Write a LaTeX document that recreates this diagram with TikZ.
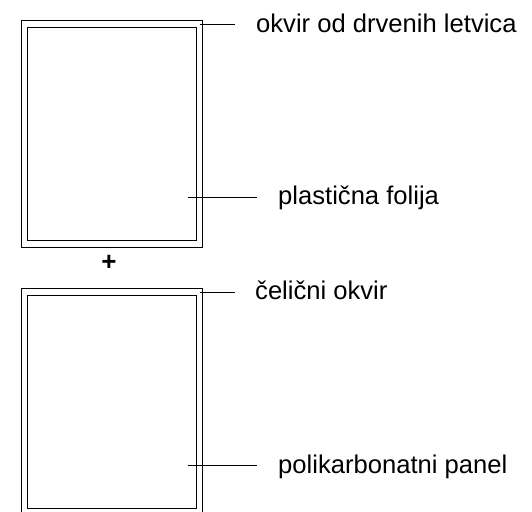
\documentclass[tikz,border=0pt]{standalone}
\usepackage{fontspec}
\setmainfont{Liberation Sans}
\begin{document}
\begin{tikzpicture}[x=1pt,y=-1pt,
  frame/.style={draw=black,line width=0.9pt},
  leader/.style={draw=black,line width=0.8pt},
  lbl/.style={anchor=base west,inner sep=0pt,font=\fontsize{25.6}{30}\selectfont},
  plus/.style={inner sep=0pt,font=\fontsize{26}{30}\selectfont\bfseries}]
\useasboundingbox (0,0) rectangle (532,511);
% top assembly
\draw[frame] (21,20) rectangle (202,247);
\draw[frame] (27,27) rectangle (196,240);
\node[plus] (p) at (109,263) {+};
% bottom assembly (cut off at the bottom)
\draw[frame] (21,513) -- (21,288) -- (202,288) -- (202,513);
\draw[frame] (27,295) rectangle (196,508);
% labels
\node[lbl] (t1) at (256,32.5) {okvir od drvenih letvica};
\node[lbl] (t2) at (278,204) {plastična folija};
\node[lbl] (t3) at (255,299) {čelični okvir};
\node[lbl] (t4) at (278,473) {polikarbonatni panel};
% leader lines
\coordinate (a1) at (200,24); \coordinate (b1) at (235,24);
\coordinate (a2) at (188,197); \coordinate (b2) at (257,197);
\coordinate (a3) at (200,292); \coordinate (b3) at (235,292);
\coordinate (a4) at (188,465); \coordinate (b4) at (257,465);
\draw[leader] (a1) -- (b1);
\draw[leader] (a2) -- (b2);
\draw[leader] (a3) -- (b3);
\draw[leader] (a4) -- (b4);
\end{tikzpicture}
\end{document}
